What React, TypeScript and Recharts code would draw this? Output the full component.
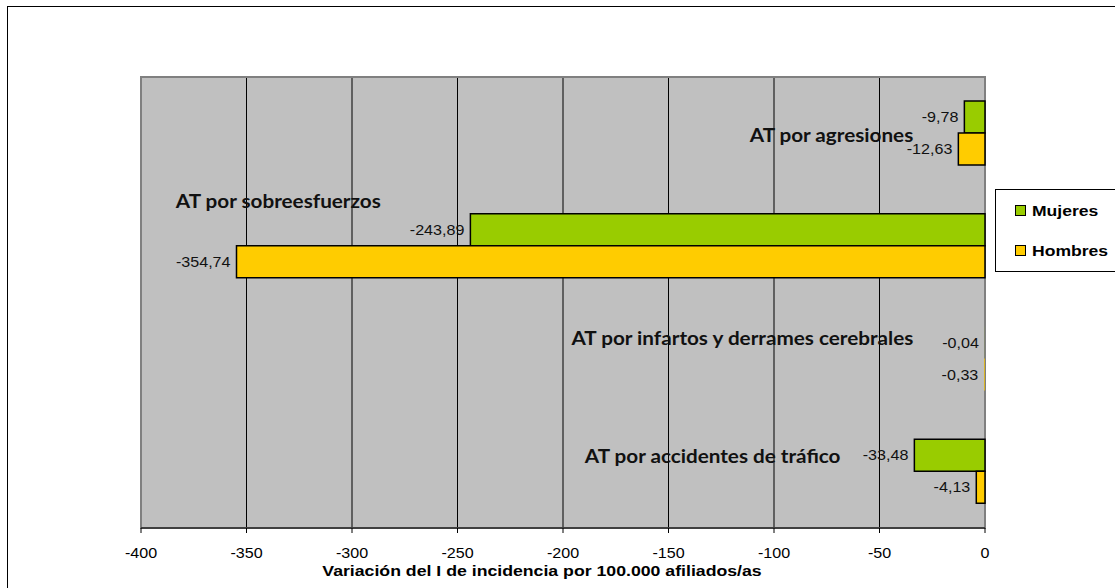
import React from 'react';
import { BarChart, Bar, XAxis, YAxis, CartesianGrid, ReferenceArea, ReferenceDot, LabelList, Cell } from 'recharts';

const categories = [
  'AT por agresiones',
  'AT por sobreesfuerzos',
  'AT por infartos y derrames cerebrales',
  'AT por accidentes de tráfico',
];
const mujeres = [-9.78, -243.89, -0.04, -33.48];
const hombres = [-12.63, -354.74, -0.33, -4.13];
const xTicks = [-400, -350, -300, -250, -200, -150, -100, -50, 0];

// where each category caption sits: anchor, value on the x axis, pixel shift up/down
const captionAnchor = ['end', 'start', 'end', 'end'];
const captionAt = [-34, -383.5, -34, -68.5];
const captionDy = [2, -45, -20.5, -16];

const GREEN = '#99CC00';
const YELLOW = '#FFCC00';
const ARIAL = 'Arial, "Liberation Sans", sans-serif';
const CAPTION_FONT = 'Lato, "Open Sans", sans-serif';
// the original picture is a bit wider than tall, so text is stretched sideways
const SX = 1.15;

const data = categories.map((name, i) => ({ name, mujeres: mujeres[i], hombres: hombres[i] }));

const fmt = (v: number) => v.toFixed(2).replace('.', ',');

const WideText = ({ x, y, anchor = 'middle', size, bold, fill = '#000', family = ARIAL, sx = SX, children }: any) => (
  <text
    transform={`translate(${x} ${y}) scale(${sx} 1)`}
    x={0}
    y={0}
    textAnchor={anchor}
    dominantBaseline="central"
    fontFamily={family}
    fontWeight={bold ? 700 : 400}
    fontSize={size}
    fill={fill}
  >
    {children}
  </text>
);

const ValueLabel = (props: any) => {
  const { x, y, width, height, value } = props;
  const left = Math.min(x, x + width);
  return (
    <WideText x={left - 6} y={y + height / 2} anchor="end" size={14} fill="#111">
      {fmt(value)}
    </WideText>
  );
};

const XTick = ({ x, y, payload }: any) => (
  <WideText x={x} y={y + 18} size={14}>
    {payload.value}
  </WideText>
);

// title sits a little left of the plot centre in the original
const AxisTitle = ({ viewBox }: any) => (
  <WideText x={viewBox.x + viewBox.width / 2 - 21} y={571} size={15} bold sx={1.18}>
    Variación del I de incidencia por 100.000 afiliados/as
  </WideText>
);

const Caption = ({ viewBox, text, anchor, dy }: any) => {
  const cx = viewBox.x + (viewBox.width || 0) / 2;
  const cy = viewBox.y + (viewBox.height || 0) / 2 + dy;
  return (
    <WideText x={cx} y={cy} anchor={anchor} size={18} bold family={CAPTION_FONT} fill="#111">
      {text}
    </WideText>
  );
};

const LegendItem = ({ color, label }: { color: string; label: string }) => (
  <div style={{ display: 'flex', alignItems: 'center', height: 20 }}>
    <span style={{ width: 9, height: 9, background: color, border: '1px solid #000', marginRight: 6 }} />
    <span
      style={{
        fontFamily: ARIAL,
        fontWeight: 700,
        fontSize: 15,
        color: '#000',
        display: 'inline-block',
        transform: 'scaleX(1.17)',
        transformOrigin: 'left center',
      }}
    >
      {label}
    </span>
  </div>
);

const barStroke = (v: number) => (Math.abs(v) < 1 ? 'none' : '#000');

export default function App() {
  return (
    <div style={{ position: 'absolute', left: 0, top: 0, width: 1115, height: 588, background: '#fff', overflow: 'hidden' }}>
      <div style={{ position: 'absolute', left: 7, top: 6, width: 1120, height: 600, border: '1.5px solid #000', boxSizing: 'border-box' }} />
      <div style={{ position: 'absolute', left: 0, top: 0 }}>
        <BarChart
          width={1115}
          height={588}
          data={data}
          layout="vertical"
          margin={{ top: 77, right: 130, left: 141, bottom: 30 }}
          barSize={32}
          barGap={0}
        >
          <CartesianGrid horizontal={false} stroke="#000" strokeWidth={1} fill="#C0C0C0" fillOpacity={1} />
          <XAxis
            type="number"
            domain={[-400, 0]}
            ticks={xTicks}
            interval={0}
            height={30}
            stroke="#000"
            tickSize={5}
            tick={<XTick />}
            label={<AxisTitle />}
          />
          <YAxis type="category" dataKey="name" hide />
          <Bar dataKey="mujeres" fill={GREEN} strokeWidth={1.5} isAnimationActive={false}>
            {mujeres.map((v, i) => (
              <Cell key={i} stroke={barStroke(v)} />
            ))}
            <LabelList dataKey="mujeres" content={ValueLabel} />
          </Bar>
          <Bar dataKey="hombres" fill={YELLOW} strokeWidth={1.5} isAnimationActive={false}>
            {hombres.map((v, i) => (
              <Cell key={i} stroke={barStroke(v)} />
            ))}
            <LabelList dataKey="hombres" content={ValueLabel} />
          </Bar>
          <ReferenceArea x1={-400} x2={0} fill="none" stroke="#808080" strokeWidth={2} ifOverflow="extendDomain" />
          {categories.map((c, i) => (
            <ReferenceDot
              key={c}
              x={captionAt[i]}
              y={c}
              r={0}
              fill="none"
              stroke="none"
              label={<Caption text={c} anchor={captionAnchor[i]} dy={captionDy[i]} />}
            />
          ))}
        </BarChart>
      </div>
      <div
        style={{
          position: 'absolute',
          left: 995,
          top: 189,
          width: 130,
          height: 83,
          border: '1px solid #000',
          boxSizing: 'border-box',
          background: '#fff',
          padding: '10px 0 0 19px',
        }}
      >
        <LegendItem color={GREEN} label="Mujeres" />
        <div style={{ height: 20 }} />
        <LegendItem color={YELLOW} label="Hombres" />
      </div>
    </div>
  );
}
